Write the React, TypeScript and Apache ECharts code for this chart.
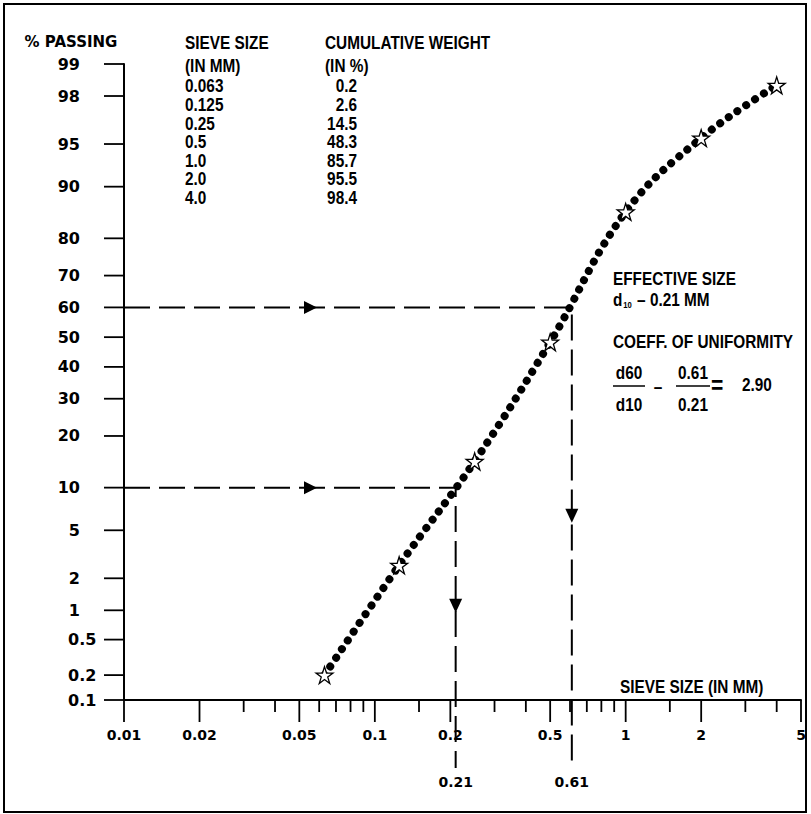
import React, { useEffect, useRef } from "react";
import * as echarts from "echarts";

// ---- data ----
const sieveSizes = [0.063, 0.125, 0.25, 0.5, 1.0, 2.0, 4.0];
const cumulativeWeights = [0.2, 2.6, 14.5, 48.3, 85.7, 95.5, 98.4];
const yTickLabels = [99, 98, 95, 90, 80, 70, 60, 50, 40, 30, 20, 10, 5, 2, 1, 0.5, 0.2, 0.1];
const xMajorTicks = [0.01, 0.02, 0.05, 0.1, 0.2, 0.5, 1, 2, 5];
const xMinorTicks = [0.03, 0.04, 0.06, 0.07, 0.08, 0.09, 0.15, 0.3, 0.4, 0.6, 0.7, 0.8, 0.9, 1.5, 3, 4];
const guideSizes = [0.21, 0.61]; // d10, d60
const guidePercents = [10, 60];

const NARROW = '"Liberation Sans", Arial, sans-serif';
const WIDE = '"DejaVu Sans", "Liberation Sans", sans-serif';

// inverse normal CDF (Acklam)
function probit(p: number): number {
  const a = [-3.969683028665376e1, 2.209460984245205e2, -2.759285104469687e2, 1.38357751867269e2, -3.066479806614716e1, 2.506628277459239];
  const b = [-5.447609879822406e1, 1.615858368580409e2, -1.556989798598866e2, 6.680131188771972e1, -1.328068155288572e1];
  const c = [-7.784894002430293e-3, -3.223964580411365e-1, -2.400758277161838, -2.549671010050120, 4.374664141464968, 2.938163982698783];
  const d = [7.784695709041462e-3, 3.224671290700398e-1, 2.445134137142996, 3.754408661907416];
  const plow = 0.02425;
  if (p < plow) {
    const q = Math.sqrt(-2 * Math.log(p));
    return (((((c[0] * q + c[1]) * q + c[2]) * q + c[3]) * q + c[4]) * q + c[5]) / ((((d[0] * q + d[1]) * q + d[2]) * q + d[3]) * q + 1);
  }
  if (p <= 1 - plow) {
    const q = p - 0.5;
    const r = q * q;
    return ((((((a[0] * r + a[1]) * r + a[2]) * r + a[3]) * r + a[4]) * r + a[5]) * q) / (((((b[0] * r + b[1]) * r + b[2]) * r + b[3]) * r + b[4]) * r + 1);
  }
  const q = Math.sqrt(-2 * Math.log(1 - p));
  return -(((((c[0] * q + c[1]) * q + c[2]) * q + c[3]) * q + c[4]) * q + c[5]) / ((((d[0] * q + d[1]) * q + d[2]) * q + d[3]) * q + 1);
}

const Y_MIN = probit(0.001);
const Y_MAX = probit(0.99);
const STAR = "path://M50,2 L61.2,36.2 L97.6,36.3 L68.2,57.6 L79.4,92 L50,70.8 L20.6,92 L31.8,57.6 L2.4,36.3 L38.8,36.2 Z";

const fmtSize = (s: number) => (s >= 1 ? s.toFixed(1) : String(s));

// condensed bold text (stretched vertically, squeezed horizontally)
function nt(x: number, y: number, text: string, align: string = "left", size: number = 16): any {
  return {
    type: "text",
    x,
    y,
    scaleX: 0.96,
    scaleY: 1.14,
    style: { text, font: `bold ${size}px ${NARROW}`, fill: "#000", align, verticalAlign: "middle" },
  };
}

export default function App() {
  const ref = useRef<HTMLDivElement>(null);
  useEffect(() => {
    document.body.style.margin = "0";
    const chart = echarts.init(ref.current!, null, { renderer: "svg" });
    const d10 = guideSizes[0];
    const d60 = guideSizes[1];
    const cu = (d60 / d10).toFixed(2);

    const tableRows: any[] = [];
    sieveSizes.forEach((s, i) => {
      const y = 86.5 + i * 18.6;
      tableRows.push(nt(185, y, fmtSize(s)));
      tableRows.push(nt(357, y, cumulativeWeights[i].toFixed(1), "right"));
    });

    const option: any = {
      animation: false,
      backgroundColor: "#fff",
      grid: { left: 124, right: 10, top: 64, bottom: 114, containLabel: false },
      xAxis: {
        type: "log",
        logBase: 10,
        min: 0.01,
        max: 5,
        axisLine: { show: true, onZero: false, lineStyle: { color: "#000", width: 2 } },
        axisTick: { show: false },
        axisLabel: { show: false },
        splitLine: { show: false },
        minorTick: { show: false },
      },
      yAxis: {
        type: "value",
        min: Y_MIN,
        max: Y_MAX,
        axisLine: { show: true, onZero: false, lineStyle: { color: "#000", width: 2 } },
        axisTick: { show: false },
        axisLabel: { show: false },
        splitLine: { show: false },
      },
      graphic: [
        { type: "rect", shape: { x: 4, y: 4, width: 802, height: 808 }, style: { fill: "none", stroke: "#000", lineWidth: 2 }, silent: true },
        { type: "text", x: 71, y: 42, style: { text: "% PASSING", font: `bold 15px ${WIDE}`, fill: "#000", align: "center", verticalAlign: "middle" } },
        nt(185, 43.5, "SIEVE SIZE"),
        nt(185, 66, "(IN MM)"),
        nt(325, 43.5, "CUMULATIVE WEIGHT"),
        nt(325, 66, "(IN %)"),
        ...tableRows,
        nt(620, 687, "SIEVE SIZE (IN MM)"),
        nt(613, 279, "EFFECTIVE SIZE"),
        {
          type: "text",
          x: 613,
          y: 300,
          scaleX: 0.96,
          scaleY: 1.14,
          style: {
            text: `{a|d}{s|10}{a| – ${d10.toFixed(2)} MM}`,
            verticalAlign: "middle",
            rich: {
              a: { font: `bold 16px ${NARROW}`, fill: "#000" },
              s: { font: `bold 8px ${NARROW}`, fill: "#000", padding: [8, 1, 0, 1] },
            },
          },
        },
        nt(613, 342, "COEFF. OF UNIFORMITY"),
        nt(629, 373, "d60", "center"),
        { type: "line", shape: { x1: 613, y1: 386, x2: 645, y2: 386 }, style: { stroke: "#000", lineWidth: 1.5 } },
        nt(629, 405, "d10", "center"),
        nt(658, 387, "–", "center"),
        nt(693, 373, d60.toFixed(2), "center"),
        { type: "line", shape: { x1: 676, y1: 386, x2: 710, y2: 386 }, style: { stroke: "#000", lineWidth: 1.5 } },
        nt(693, 405, d10.toFixed(2), "center"),
        nt(711, 385, "=", "left", 22),
        nt(742, 385, cu),
      ],
      series: [
        {
          type: "custom",
          name: "yTicks",
          clip: false,
          silent: true,
          z: 3,
          data: yTickLabels.map((p) => [0.01, probit(p / 100), p]),
          renderItem: (params: any, api: any) => {
            const pt = api.coord([api.value(0), api.value(1)]);
            const p = api.value(2);
            const dec = p < 1;
            return {
              type: "group",
              children: [
                { type: "line", shape: { x1: pt[0] - 20, y1: pt[1], x2: pt[0], y2: pt[1] }, style: { stroke: "#000", lineWidth: 1.8 } },
                {
                  type: "text",
                  x: dec ? 68 : 80,
                  y: pt[1],
                  style: { text: String(p), font: `bold 16px ${WIDE}`, fill: "#000", align: dec ? "left" : "right", verticalAlign: "middle" },
                },
              ],
            };
          },
        },
        {
          type: "custom",
          name: "xTicks",
          clip: false,
          silent: true,
          z: 3,
          data: [...xMajorTicks.map((x) => [x, Y_MIN, 1]), ...xMinorTicks.map((x) => [x, Y_MIN, 0])],
          renderItem: (params: any, api: any) => {
            const x = api.value(0);
            const major = api.value(2) === 1;
            const pt = api.coord([x, api.value(1)]);
            const children: any[] = [
              { type: "line", shape: { x1: pt[0], y1: pt[1], x2: pt[0], y2: pt[1] + (major ? 22 : 12) }, style: { stroke: "#000", lineWidth: 1.8 } },
            ];
            if (major) {
              children.push({
                type: "text",
                x: pt[0],
                y: pt[1] + 35,
                style: { text: String(x), font: `bold 14px ${WIDE}`, fill: "#000", align: "center", verticalAlign: "middle" },
              });
            }
            return { type: "group", children };
          },
        },
        {
          type: "custom",
          name: "guides",
          clip: false,
          silent: true,
          z: 2,
          data: guideSizes.map((s, i) => [s, probit(guidePercents[i] / 100)]),
          renderItem: (params: any, api: any) => {
            const cs = params.coordSys;
            const c = api.coord([api.value(0), api.value(1)]);
            const axisY = cs.y + cs.height;
            const hx = cs.x + 193;
            const vy = (c[1] + axisY) / 2 + 19;
            return {
              type: "group",
              children: [
                {
                  type: "polyline",
                  shape: { points: [[cs.x, c[1]], [c[0], c[1]], [c[0], axisY + 68]] },
                  style: { stroke: "#000", lineWidth: 2, fill: null, lineDash: [26, 9] },
                },
                { type: "polygon", shape: { points: [[hx - 13, c[1] - 6.5], [hx, c[1]], [hx - 13, c[1] + 6.5]] }, style: { fill: "#000" } },
                { type: "polygon", shape: { points: [[c[0] - 6.5, vy - 14], [c[0], vy], [c[0] + 6.5, vy - 14]] }, style: { fill: "#000" } },
                {
                  type: "text",
                  x: c[0],
                  y: axisY + 82,
                  style: { text: api.value(0).toFixed(2), font: `bold 14px ${WIDE}`, fill: "#000", align: "center", verticalAlign: "middle" },
                },
              ],
            };
          },
        },
        {
          type: "line",
          name: "curve",
          smooth: 0.4,
          showSymbol: false,
          silent: true,
          z: 4,
          data: sieveSizes.map((s, i) => [s, probit(cumulativeWeights[i] / 100)]),
          lineStyle: { color: "#000", width: 8, type: [0.01, 10.5], cap: "round" },
        },
        {
          type: "scatter",
          name: "samples",
          silent: true,
          z: 5,
          symbol: STAR,
          symbolSize: 17,
          data: sieveSizes.map((s, i) => [s, probit(cumulativeWeights[i] / 100)]),
          itemStyle: { color: "#fff", borderColor: "#000", borderWidth: 1.3, opacity: 1 },
        },
      ],
    };
    chart.setOption(option);
    return () => chart.dispose();
  }, []);
  return <div ref={ref} style={{ width: 811, height: 814 }} />;
}
